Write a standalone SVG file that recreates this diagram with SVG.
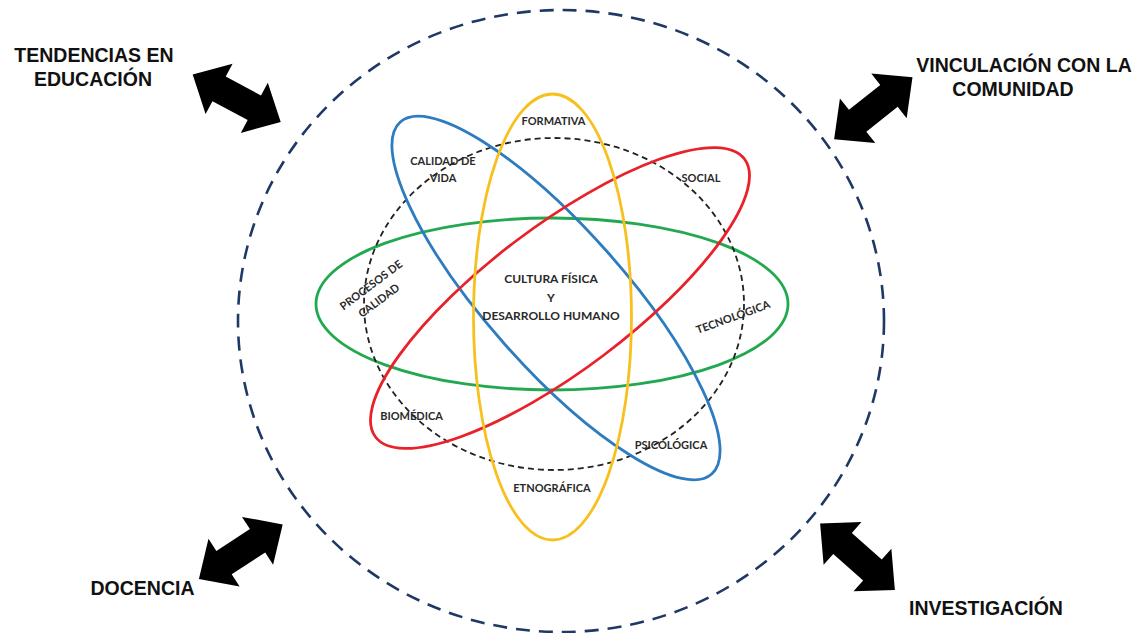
<svg xmlns="http://www.w3.org/2000/svg" width="1141" height="633" viewBox="0 0 1141 633">
  <style>
    .outer { fill: none; stroke: #1F3864; stroke-width: 2.6; stroke-dasharray: 14 9; }
    .inner { fill: none; stroke: #222; stroke-width: 1.8; stroke-dasharray: 6 4; }
    .orb { fill: none; stroke-width: 2.8; }
    .corner { font-family: "Liberation Sans", Arial, sans-serif; font-weight: bold; font-size: 19.5px; fill: #111; text-anchor: middle; }
    .lbl { font-family: Lato, "Liberation Sans", sans-serif; font-weight: bold; font-size: 11px; fill: #2a2a2a; text-anchor: middle; }
    .center { font-size: 12px; }
    .arrow { fill: #000; }
  </style>
  <defs>
    <polygon id="dblarrow" points="-50,0 -20,-28.5 -20,-14 20,-14 20,-28.5 50,0 20,28.5 20,14 -20,14 -20,28.5"/>
  </defs>
  <rect width="1141" height="633" fill="#fff"/>

  <g id="frame">
    <ellipse class="outer" cx="561" cy="321" rx="323" ry="311"/>
  </g>

  <g id="orbits">
    <ellipse id="green" class="orb" stroke="#22A94F" cx="552" cy="304" rx="236" ry="86"/>
    <ellipse id="dashed-core" class="inner" cx="554" cy="304" rx="190" ry="166"/>
    <ellipse id="blue" class="orb" stroke="#2E7CC0" cx="556" cy="298" rx="235" ry="69" transform="rotate(48.5 556 298)"/>
    <ellipse id="red" class="orb" stroke="#E8212A" cx="560" cy="298" rx="231" ry="72" transform="rotate(-37 560 298)"/>
    <ellipse id="yellow" class="orb" stroke="#F8C01E" cx="552.5" cy="317" rx="79" ry="223"/>
  </g>

  <g id="connectors">
    <use href="#dblarrow" class="arrow" transform="translate(236.7 98.3) rotate(28.3)"/>
    <use href="#dblarrow" class="arrow" transform="translate(873.3 108.3) rotate(-38.4)"/>
    <use href="#dblarrow" class="arrow" transform="translate(240.8 551.7) rotate(-33.1)"/>
    <use href="#dblarrow" class="arrow" transform="translate(857.5 556.7) rotate(41.6)"/>
  </g>

  <g id="node-tendencias">
    <text class="corner" x="94" y="62">TENDENCIAS EN</text>
    <text class="corner" x="93" y="86">EDUCACIÓN</text>
  </g>
  <g id="node-vinculacion">
    <text class="corner" x="1024" y="72">VINCULACIÓN CON LA</text>
    <text class="corner" x="1013" y="96">COMUNIDAD</text>
  </g>
  <g id="node-docencia">
    <text class="corner" x="142.5" y="595">DOCENCIA</text>
  </g>
  <g id="node-investigacion">
    <text class="corner" x="986" y="615">INVESTIGACIÓN</text>
  </g>

  <g id="node-centro">
    <text class="lbl center" x="551" y="283">CULTURA FÍSICA</text>
    <text class="lbl center" x="551" y="302">Y</text>
    <text class="lbl center" x="551" y="320">DESARROLLO HUMANO</text>
  </g>
  <g id="node-formativa"><text class="lbl" x="553.5" y="125">FORMATIVA</text></g>
  <g id="node-calidad-vida">
    <text class="lbl" x="443" y="165">CALIDAD DE</text>
    <text class="lbl" x="443" y="182">VIDA</text>
  </g>
  <g id="node-social"><text class="lbl" x="701" y="182">SOCIAL</text></g>
  <g id="node-procesos" transform="translate(371 285) rotate(-37)">
    <text class="lbl" x="0" y="4">PROCESOS DE</text>
    <text class="lbl" x="-3" y="21">CALIDAD</text>
  </g>
  <g id="node-tecnologica" transform="translate(733 317) rotate(-20)">
    <text class="lbl" x="0" y="4">TECNOLÓGICA</text>
  </g>
  <g id="node-biomedica"><text class="lbl" x="411.5" y="420">BIOMÉDICA</text></g>
  <g id="node-psicologica"><text class="lbl" x="671" y="449">PSICOLÓGICA</text></g>
  <g id="node-etnografica"><text class="lbl" x="552" y="492">ETNOGRÁFICA</text></g>
</svg>
